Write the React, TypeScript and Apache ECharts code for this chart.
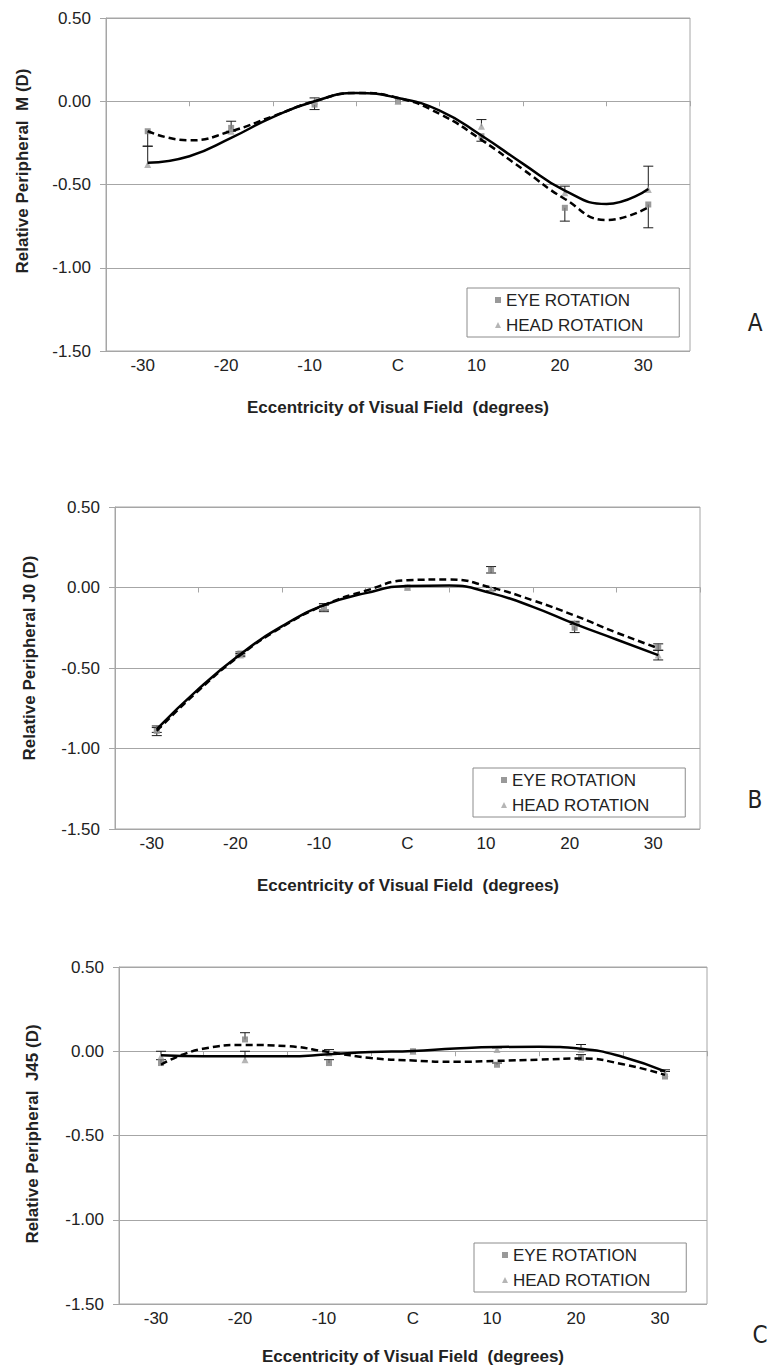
import React, { useEffect, useRef } from 'react';
import * as echarts from 'echarts';

// ---------- data ----------
const CATEGORIES = ['-30', '-20', '-10', 'C', '10', '20', '30'];
const ECCENTRICITY = [-30, -20, -10, 0, 10, 20, 30];
const FIT_X = [-30, -25, -20, -15, -10, -5, 0, 5, 10, 15, 20, 25, 30];
const LEGEND_NAMES = ['EYE ROTATION', 'HEAD ROTATION'];

// Panel A : M
const A_EYE = [-0.18, -0.16, -0.02, 0.0, -0.21, -0.64, -0.62];
const A_HEAD = [-0.38, -0.18, 0.0, 0.0, -0.15, -0.55, -0.53];
const A_EYE_ERR = [[0.09, 0], [0.02, 0], [0.03, 0], [0, 0], [0.03, 0], [0.08, 0], [0.14, 0]];
const A_HEAD_ERR = [[0, 0.11], [0, 0.06], [0, 0.02], [0, 0], [0, 0.04], [0, 0.04], [0, 0.14]];
const A_EYE_FIT = [-0.18, -0.235, -0.18, -0.09, 0.0, 0.05, 0.02, -0.076, -0.232, -0.41, -0.587, -0.713, -0.637];
const A_HEAD_FIT = [-0.37, -0.33, -0.22, -0.095, 0.0, 0.05, 0.02, -0.056, -0.206, -0.376, -0.537, -0.617, -0.527];

// Panel B : J0
const B_EYE = [-0.89, -0.41, -0.13, 0.0, 0.11, -0.25, -0.37];
const B_HEAD = [-0.88, -0.42, -0.12, 0.0, -0.01, -0.22, -0.42];
const B_EYE_ERR = [[0.03, 0.02], [0.01, 0.01], [0.02, 0.02], [0, 0], [0.02, 0.02], [0.03, 0.03], [0.02, 0.02]];
const B_HEAD_ERR = [[0.02, 0.02], [0.01, 0.01], [0.02, 0.02], [0, 0], [0.01, 0.01], [0.01, 0.01], [0.03, 0.03]];
const B_EYE_FIT = [-0.89, -0.64, -0.42, -0.245, -0.11, -0.02, 0.045, 0.05, 0.0, -0.08, -0.174, -0.28, -0.377];
const B_HEAD_FIT = [-0.88, -0.63, -0.415, -0.24, -0.11, -0.035, 0.01, 0.012, -0.035, -0.12, -0.226, -0.323, -0.42];

// Panel C : J45
const C_EYE = [-0.07, 0.07, -0.07, 0.0, -0.08, -0.04, -0.15];
const C_HEAD = [-0.03, -0.05, -0.01, 0.0, 0.01, 0.01, -0.13];
const C_EYE_ERR = [[0, 0.02], [0, 0.04], [0, 0.02], [0, 0], [0, 0.01], [0, 0.02], [0, 0.03]];
const C_HEAD_ERR = [[0, 0.03], [0, 0.05], [0, 0.02], [0, 0], [0, 0.01], [0, 0.03], [0, 0.02]];
const C_EYE_FIT = [-0.08, 0.015, 0.037, 0.03, -0.005, -0.04, -0.055, -0.063, -0.057, -0.05, -0.043, -0.077, -0.14];
const C_HEAD_FIT = [-0.024, -0.03, -0.03, -0.03, -0.018, -0.005, 0.002, 0.016, 0.025, 0.027, 0.015, -0.034, -0.12];

// ---------- layout / style ----------
const FONT = '"Liberation Sans", Arial, Helvetica, sans-serif';
const GRID_COLOR = '#a6a6a6';
const TEXT_COLOR = '#222';

const PANELS = [
  {
    letter: 'A', yTitle: 'Relative Peripheral  M (D)',
    eye: A_EYE, head: A_HEAD, eyeErr: A_EYE_ERR, headErr: A_HEAD_ERR, eyeFit: A_EYE_FIT, headFit: A_HEAD_FIT,
    grid: { left: 106, top: 18, width: 584, height: 333 },
    yTitlePos: [22, 171], xTitlePos: [398, 407], legendPos: [467, 288], letterPos: [755, 323],
  },
  {
    letter: 'B', yTitle: 'Relative Peripheral J0 (D)',
    eye: B_EYE, head: B_HEAD, eyeErr: B_EYE_ERR, headErr: B_HEAD_ERR, eyeFit: B_EYE_FIT, headFit: B_HEAD_FIT,
    grid: { left: 115, top: 507, width: 585, height: 322 },
    yTitlePos: [29, 658], xTitlePos: [408, 885], legendPos: [473, 768], letterPos: [755, 800],
  },
  {
    letter: 'C', yTitle: 'Relative Peripheral  J45 (D)',
    eye: C_EYE, head: C_HEAD, eyeErr: C_EYE_ERR, headErr: C_HEAD_ERR, eyeFit: C_EYE_FIT, headFit: C_HEAD_FIT,
    grid: { left: 119, top: 967, width: 588, height: 337 },
    yTitlePos: [32, 1134], xTitlePos: [413, 1356], legendPos: [474, 1243], letterPos: [760, 1335],
  },
];

function errorSeries(vals: number[], errs: number[][], xIdx: number, yIdx: number) {
  const data: number[][] = [];
  vals.forEach((v, i) => {
    const [m, p] = errs[i];
    if (m === 0 && p === 0) return;
    data.push([ECCENTRICITY[i], v - m, v + p, m > 0 ? 1 : 0, p > 0 ? 1 : 0]);
  });
  return {
    type: 'custom',
    xAxisIndex: xIdx,
    yAxisIndex: yIdx,
    data,
    encode: { x: 0, y: [1, 2] },
    z: 2,
    silent: true,
    clip: false,
    renderItem: (_params: any, api: any) => {
      const x = api.value(0);
      const lo = api.coord([x, api.value(1)]);
      const hi = api.coord([x, api.value(2)]);
      const st = { stroke: '#1a1a1a', lineWidth: 1 };
      const children: any[] = [
        { type: 'line', shape: { x1: lo[0], y1: lo[1], x2: hi[0], y2: hi[1] }, style: st },
      ];
      if (api.value(3)) children.push({ type: 'line', shape: { x1: lo[0] - 5, y1: lo[1], x2: lo[0] + 5, y2: lo[1] }, style: st });
      if (api.value(4)) children.push({ type: 'line', shape: { x1: hi[0] - 5, y1: hi[1], x2: hi[0] + 5, y2: hi[1] }, style: st });
      return { type: 'group', children };
    },
  };
}

function buildOption() {
  const grid: any[] = [];
  const xAxis: any[] = [];
  const yAxis: any[] = [];
  const series: any[] = [];
  const legend: any[] = [];
  const graphic: any[] = [];

  PANELS.forEach((p, i) => {
    grid.push({
      ...p.grid, show: true, borderColor: GRID_COLOR, borderWidth: 1,
      backgroundColor: 'transparent', containLabel: false, outerBoundsMode: 'none',
    });
    xAxis.push({
      type: 'category', gridIndex: i, data: CATEGORIES, boundaryGap: true, position: 'bottom',
      axisLine: { show: false, onZero: false }, axisTick: { show: false }, splitLine: { show: false },
      axisLabel: {
        interval: 0, margin: 6, fontSize: 17, color: TEXT_COLOR, fontFamily: FONT,
        formatter: (v: string) => (v === 'C' ? v : '{n|' + v + '}'),
        rich: { n: { fontSize: 17, color: TEXT_COLOR, fontFamily: FONT, padding: [0, 10, 0, 0] } },
      },
    });
    xAxis.push({
      type: 'category', gridIndex: i, data: CATEGORIES, boundaryGap: true, position: 'bottom',
      axisLine: { show: true, onZero: true, lineStyle: { color: GRID_COLOR, width: 1 } },
      axisTick: { show: true, interval: 0, length: 5, inside: false, lineStyle: { color: GRID_COLOR } },
      axisLabel: { show: false }, splitLine: { show: false },
    });
    xAxis.push({
      type: 'value', gridIndex: i, min: -35, max: 35, show: false,
      axisLine: { onZero: false }, splitLine: { show: false },
    });
    yAxis.push({
      type: 'value', gridIndex: i, min: -1.5, max: 0.5, interval: 0.5,
      axisLine: { show: true, onZero: false, lineStyle: { color: GRID_COLOR } },
      axisTick: { show: true, length: 6, lineStyle: { color: GRID_COLOR } },
      splitLine: { show: true, lineStyle: { color: GRID_COLOR, width: 1 } },
      axisLabel: {
        margin: 15, fontSize: 17, color: TEXT_COLOR, fontFamily: FONT,
        formatter: (v: number) => v.toFixed(2),
      },
    });

    const xIdx = 3 * i + 2;
    series.push(errorSeries(p.eye, p.eyeErr, xIdx, i));
    series.push(errorSeries(p.head, p.headErr, xIdx, i));
    series.push({
      type: 'scatter', name: LEGEND_NAMES[0], xAxisIndex: xIdx, yAxisIndex: i,
      data: p.eye.map((v, k) => [ECCENTRICITY[k], v]),
      symbol: 'rect', symbolSize: 6, itemStyle: { color: '#7f7f7f' }, z: 3, silent: true,
    });
    series.push({
      type: 'scatter', name: LEGEND_NAMES[1], xAxisIndex: xIdx, yAxisIndex: i,
      data: p.head.map((v, k) => [ECCENTRICITY[k], v]),
      symbol: 'triangle', symbolSize: 7, itemStyle: { color: '#a3a3a3' }, z: 3, silent: true,
    });
    series.push({
      type: 'line', name: 'eye fit ' + p.letter, xAxisIndex: xIdx, yAxisIndex: i,
      data: FIT_X.map((x, k) => [x, p.eyeFit[k]]),
      smooth: 0.5, showSymbol: false, symbol: 'none', silent: true, z: 4,
      lineStyle: { color: '#000', width: 2.5, type: [7, 4] },
    });
    series.push({
      type: 'line', name: 'head fit ' + p.letter, xAxisIndex: xIdx, yAxisIndex: i,
      data: FIT_X.map((x, k) => [x, p.headFit[k]]),
      smooth: 0.5, showSymbol: false, symbol: 'none', silent: true, z: 4,
      lineStyle: { color: '#000', width: 2.5, type: 'solid' },
    });

    legend.push({
      left: p.legendPos[0], top: p.legendPos[1], orient: 'vertical',
      data: [{ name: LEGEND_NAMES[0], icon: 'rect' }, { name: LEGEND_NAMES[1], icon: 'triangle' }],
      itemWidth: 6, itemHeight: 6, itemGap: 5,
      padding: [2, 36, 2, 28],
      borderColor: '#8c8c8c', borderWidth: 1, backgroundColor: '#fff', borderRadius: 0,
      selectedMode: false,
      textStyle: { fontSize: 17, fontFamily: FONT, color: TEXT_COLOR, lineHeight: 20 },
    });

    graphic.push({
      type: 'text', x: p.yTitlePos[0], y: p.yTitlePos[1], rotation: Math.PI / 2,
      style: {
        text: p.yTitle, fontSize: 17, fontWeight: 'bold', fontFamily: FONT, fill: TEXT_COLOR,
        textAlign: 'center', textVerticalAlign: 'middle', align: 'center', verticalAlign: 'middle',
      },
    });
    graphic.push({
      type: 'text', x: p.xTitlePos[0], y: p.xTitlePos[1],
      style: {
        text: 'Eccentricity of Visual Field  (degrees)', fontSize: 17, fontWeight: 'bold', fontFamily: FONT,
        fill: TEXT_COLOR, textAlign: 'center', textVerticalAlign: 'middle', align: 'center', verticalAlign: 'middle',
      },
    });
    graphic.push({
      type: 'text', x: p.letterPos[0], y: p.letterPos[1],
      style: {
        text: p.letter, fontSize: 24, fontFamily: '"Liberation Sans Narrow", "DejaVu Sans Condensed", sans-serif',
        fill: TEXT_COLOR, textAlign: 'center', textVerticalAlign: 'middle', align: 'center', verticalAlign: 'middle',
      },
    });
  });

  return {
    animation: false,
    backgroundColor: '#fff',
    textStyle: { fontFamily: FONT },
    grid, xAxis, yAxis, series, legend, graphic,
  };
}

export default function App() {
  const ref = useRef<HTMLDivElement>(null);
  useEffect(() => {
    if (!ref.current) return;
    const chart = echarts.init(ref.current, null, { renderer: 'svg' });
    chart.setOption(buildOption() as any);
    return () => chart.dispose();
  }, []);
  return (
    <div
      ref={ref}
      style={{ position: 'absolute', left: 0, top: 0, width: 769, height: 1367, background: '#fff' }}
    />
  );
}
